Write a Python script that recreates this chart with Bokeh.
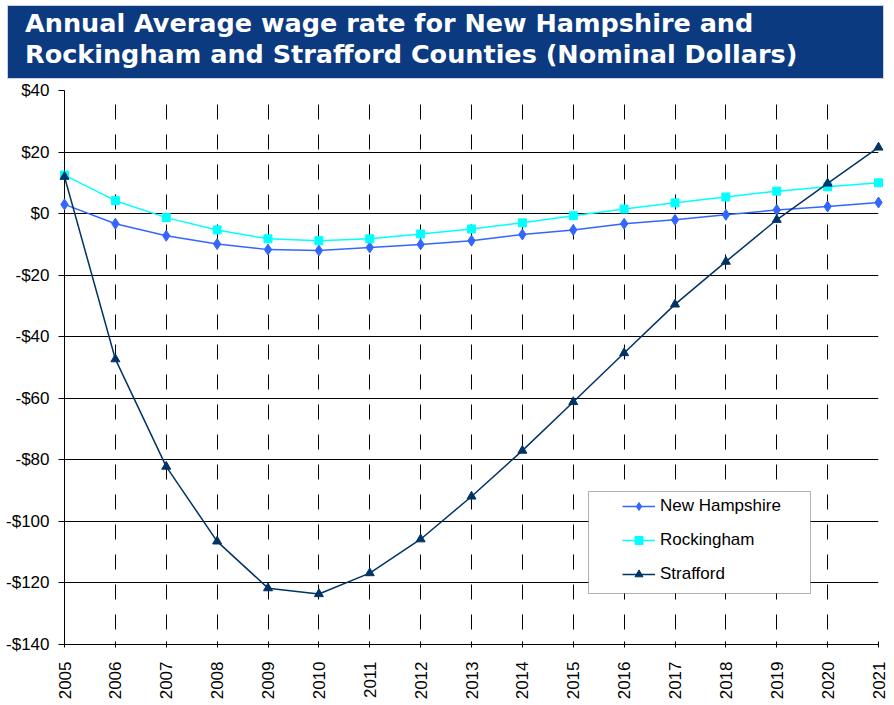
import math
from bokeh.plotting import figure
from bokeh.models import (Range1d, FixedTicker, Legend, LegendItem, BoxAnnotation,
                          ColumnDataSource, Div)
from bokeh.layouts import column
from bokeh.embed import file_html
from bokeh.resources import INLINE

# ---------------- data ----------------
years = list(range(2005, 2022))
new_hampshire = [3.0, -3.3, -7.2, -9.9, -11.7, -12.0, -11.0, -10.0, -8.8, -6.8,
                 -5.3, -3.3, -2.0, -0.4, 1.2, 2.3, 3.6]
rockingham = [12.5, 4.2, -1.3, -5.3, -8.2, -8.8, -8.2, -6.6, -5.0, -3.0,
              -0.7, 1.5, 3.5, 5.4, 7.3, 8.7, 10.0]
strafford = [12.0, -47.3, -82.2, -106.5, -121.7, -123.6, -116.8, -105.8, -91.9, -77.0,
             -61.2, -45.3, -29.5, -15.6, -2.0, 9.8, 21.5]
series_names = ["New Hampshire", "Rockingham", "Strafford"]
y_ticks = [40, 20, 0, -20, -40, -60, -80, -100, -120, -140]
y_tick_labels = ["$40", "$20", "$0", "-$20", "-$40", "-$60", "-$80", "-$100", "-$120", "-$140"]
x_tick_labels = [str(y) for y in years]
title_lines = ["Annual Average wage rate for New Hampshire and",
               "Rockingham and Strafford Counties (Nominal Dollars)"]

# ---------------- style ----------------
BANNER = "#0B3A80"
NH_COLOR = "#3366FF"
RK_COLOR = "#00FFFF"
SF_COLOR = "#003366"
FONT = "Liberation Sans"

# ---------------- title banner ----------------
banner_html = (
    '<div style="position:relative; left:7px; top:5px; width:877px; height:74px; '
    f'box-sizing:border-box; background:{BANNER}; border:1px solid #C8D2E6; '
    'padding:2px 0 0 17px; color:white; font-family:\'DejaVu Sans\'; font-weight:bold; '
    'font-size:25.5px; line-height:31px; white-space:nowrap;">'
    + "<br>".join(title_lines) + "</div>"
)
banner = Div(text=banner_html, width=894, height=80, margin=0)

# ---------------- main chart ----------------
W, H = 890, 622
ML, MT = 64, 10
FW, FH = 814, 556
MR, MB = W - ML - FW, H - MT - FH
XMIN, XMAX, YMIN, YMAX = years[0], years[-1], y_ticks[-1], y_ticks[0]

p = figure(width=W, height=H, x_range=Range1d(XMIN, XMAX), y_range=Range1d(YMIN, YMAX),
           output_backend="svg", toolbar_location=None, margin=0,
           min_border_left=ML, min_border_right=MR, min_border_top=MT, min_border_bottom=MB)
p.outline_line_color = None
p.background_fill_color = "white"
p.border_fill_color = "white"

p.xaxis.ticker = FixedTicker(ticks=years)
p.xaxis.major_label_overrides = {y: l for y, l in zip(years, x_tick_labels)}
p.xaxis.major_label_orientation = math.pi / 2
p.xaxis.major_label_standoff = 14
p.xaxis.major_tick_in = 3
p.xaxis.major_tick_out = 3
p.xaxis.minor_tick_line_color = None

p.yaxis.ticker = FixedTicker(ticks=y_ticks)
p.yaxis.major_label_overrides = {t: l for t, l in zip(y_ticks, y_tick_labels)}
p.yaxis.major_tick_in = 0
p.yaxis.major_tick_out = 6
p.yaxis.major_label_standoff = 9
p.yaxis.minor_tick_line_color = None

for ax in (p.xaxis, p.yaxis):
    ax.axis_line_color = "black"
    ax.major_tick_line_color = "black"
    ax.major_label_text_font = FONT
    ax.major_label_text_font_size = "17px"
    ax.major_label_text_color = "black"

p.xgrid.ticker = FixedTicker(ticks=years)
p.xgrid.grid_line_color = "black"
p.xgrid.grid_line_dash = "15 15"
p.xgrid.grid_line_dash_offset = 15
p.ygrid.ticker = FixedTicker(ticks=y_ticks)
p.ygrid.grid_line_color = "black"
p.ygrid.grid_line_width = 1

# ---------------- series ----------------
src = ColumnDataSource(dict(year=years, nh=new_hampshire, rk=rockingham, sf=strafford))

items = []
specs = [("nh", NH_COLOR, "diamond", 11), ("rk", RK_COLOR, "square", 8),
         ("sf", SF_COLOR, "triangle", 9)]
for name, (col, color, marker, size) in zip(series_names, specs):
    ln = p.line("year", col, source=src, line_color=color, line_width=1.5, level="overlay")
    mk = p.scatter("year", col, source=src, marker=marker, size=size, fill_color=color,
                   line_color=color, level="overlay")
    items.append(LegendItem(label=name, renderers=[ln, mk]))

# ---------------- legend (canvas pixels of this figure) ----------------
legend_box = BoxAnnotation(left=588, right=810, top=411, bottom=513,
                           left_units="canvas", right_units="canvas",
                           top_units="canvas", bottom_units="canvas",
                           fill_color="white", fill_alpha=1, line_color="black",
                           line_width=1, level="annotation")
p.add_layout(legend_box)

legend = Legend(items=items, location=(551, 53), orientation="vertical",
                glyph_width=33, glyph_height=20, label_height=20, label_standoff=5,
                spacing=14, padding=7, margin=0, border_line_alpha=0,
                background_fill_alpha=0, label_text_font=FONT,
                label_text_font_size="17px", label_text_color="black")
p.add_layout(legend)

layout = column(banner, p, spacing=0)
open("out.html", "w").write(file_html(layout, INLINE))
